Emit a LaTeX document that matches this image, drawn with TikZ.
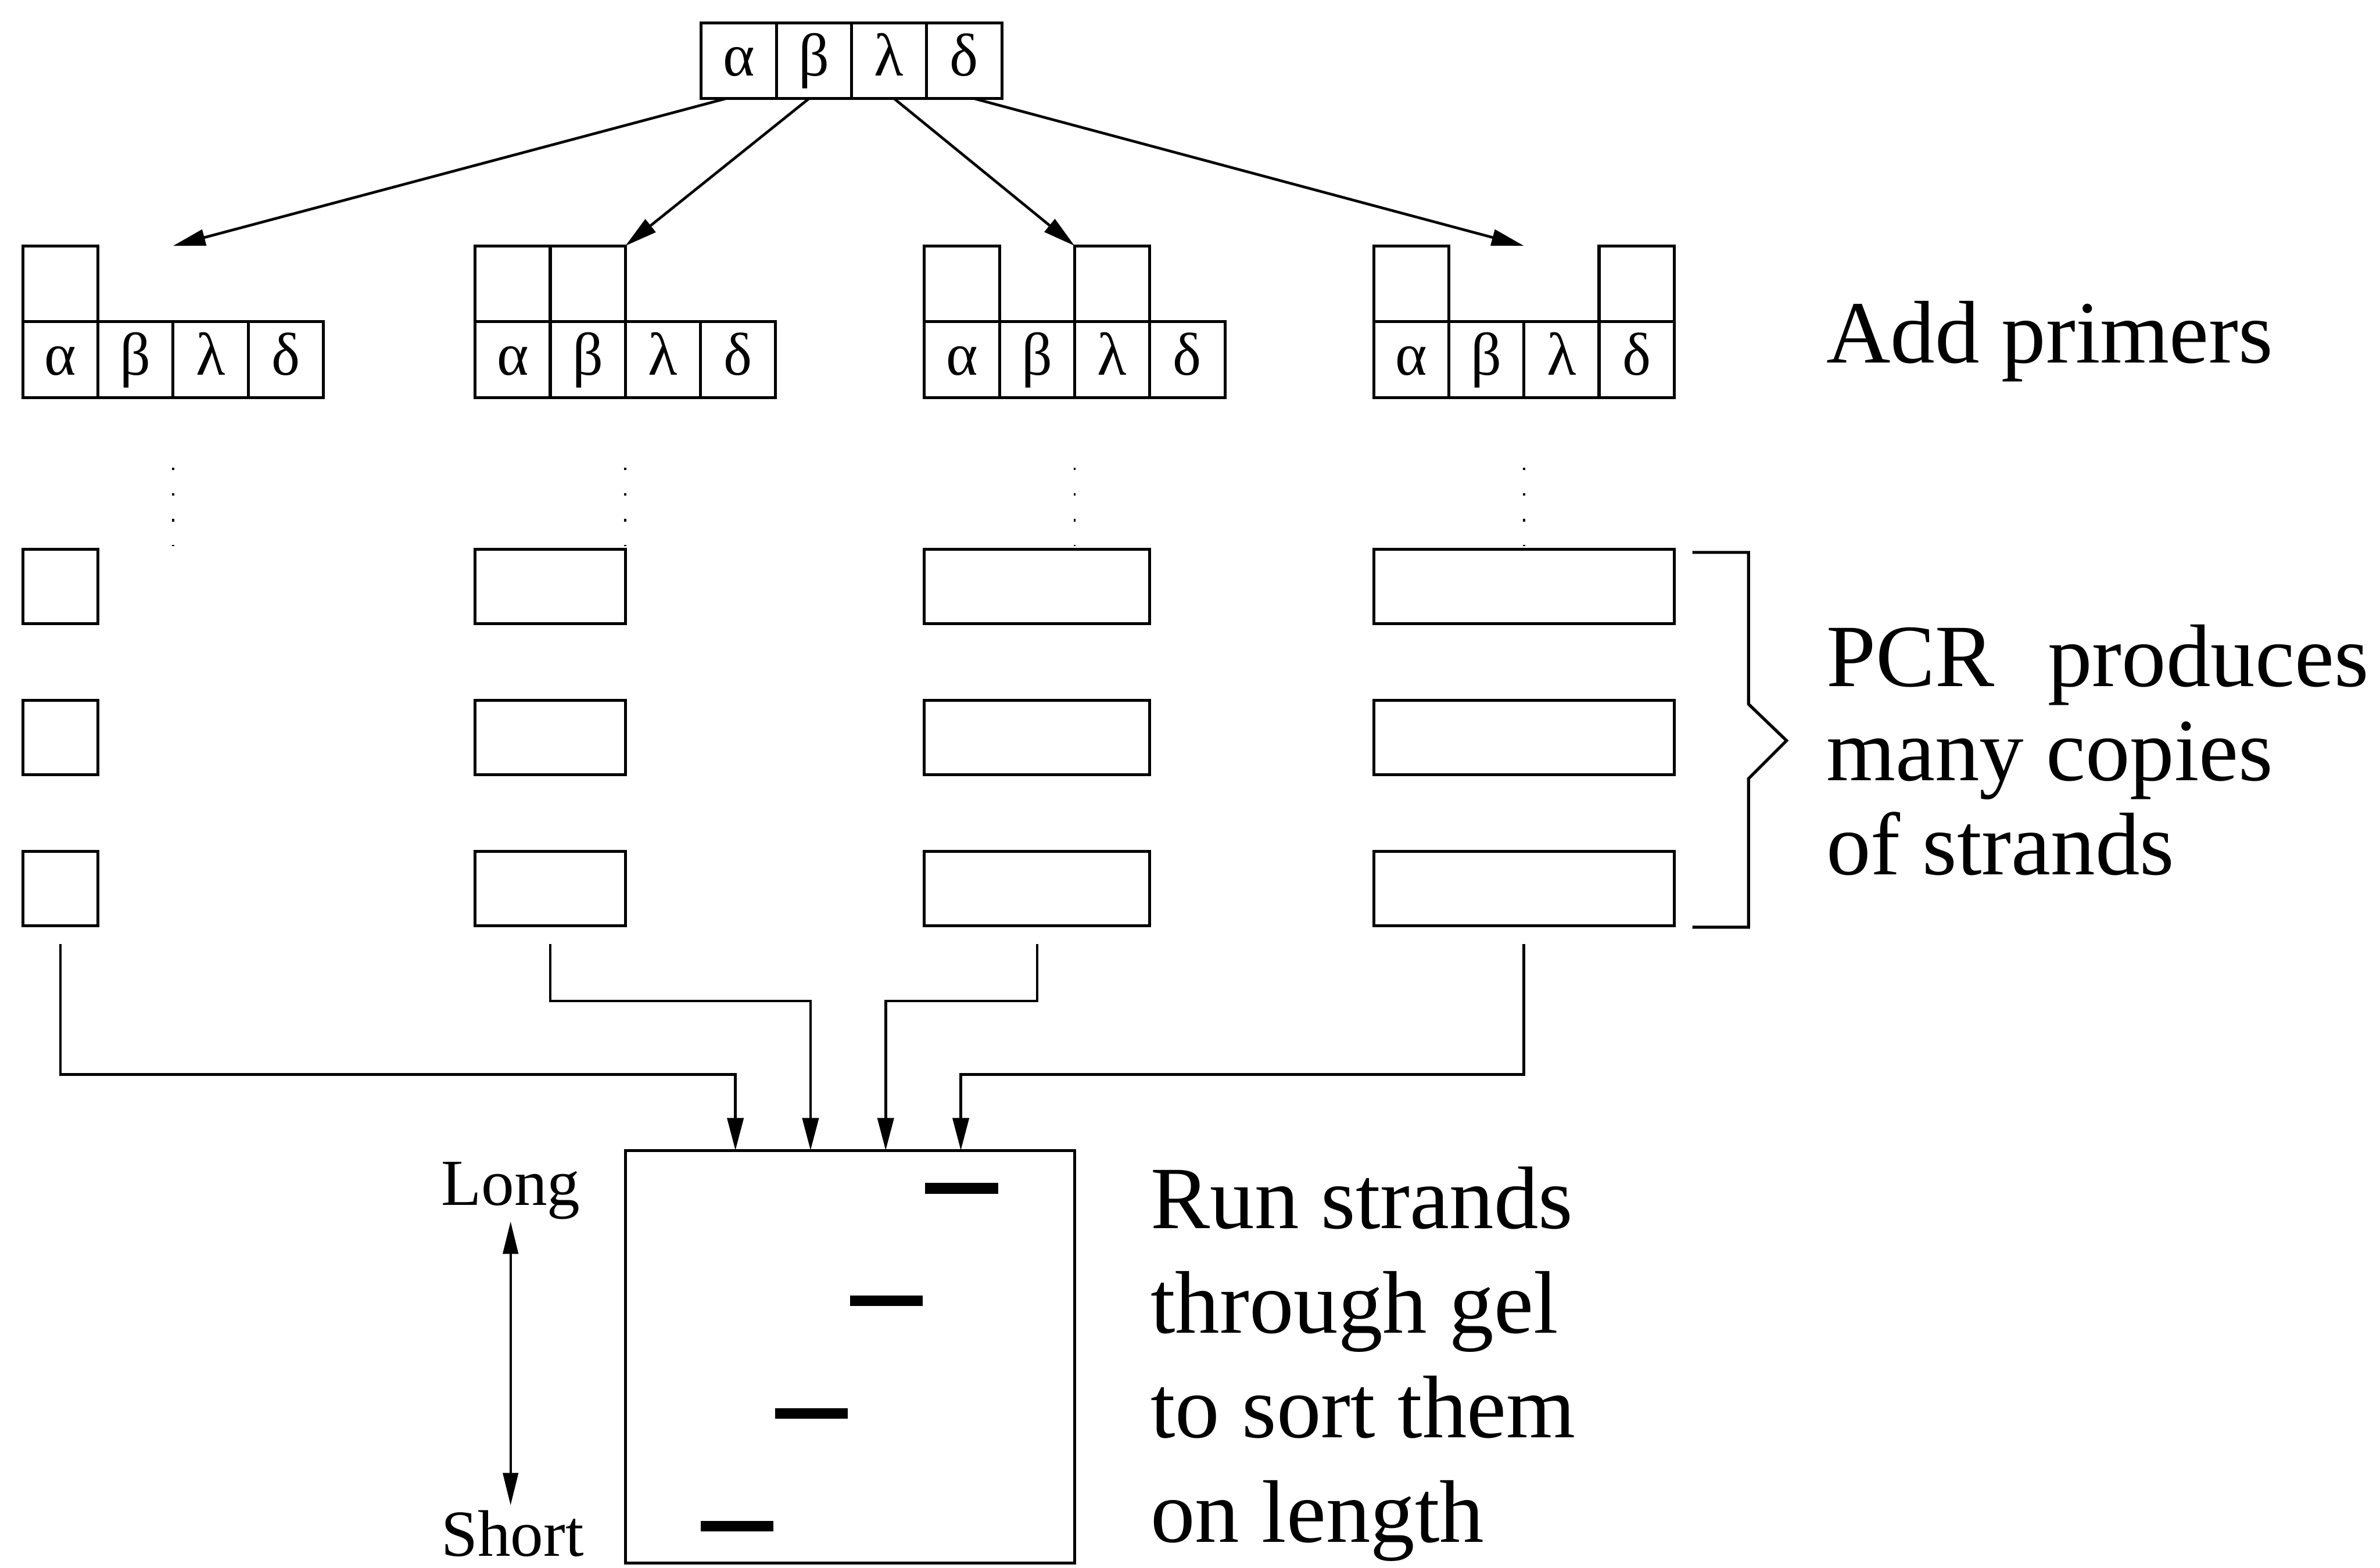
\documentclass[tikz,border=0pt]{standalone}
\usepackage{fontspec}
\setmainfont{Liberation Serif}
\usepackage{tikz}
\usetikzlibrary{arrows.meta,positioning}
\tikzset{
  cell/.style={draw,line width=1.7pt,minimum width=14.85mm,minimum height=15mm,inner sep=0pt,outer sep=0pt,text height=24pt,text depth=7pt,font=\fontsize{34}{40}\selectfont},
  strand/.style={draw,line width=1.7pt,minimum height=14.7mm,inner sep=0pt,outer sep=0pt,anchor=north west},
  gelbox/.style={draw,line width=1.6pt,minimum width=88.8mm,minimum height=81.6mm,inner sep=0pt,outer sep=0pt},
  band/.style={fill=black,minimum width=14.4mm,minimum height=2.1mm,inner sep=0pt},
  arrow/.style={-{Triangle[length=6.4mm,width=3.2mm]},line width=1.5pt},
  twoway/.style={{Triangle[length=6.4mm,width=3mm]}-{Triangle[length=6.4mm,width=3mm]},line width=1.4pt},
  brace/.style={line width=1.7pt},
  trace/.style={line width=1.3pt,dash pattern=on 0.5mm off 4.6mm},
  note/.style={anchor=base west,align=left,inner sep=0pt,font=\fontsize{50}{53}\selectfont},
  scalenote/.style={anchor=base west,inner sep=0pt,font=\fontsize{37}{40}\selectfont}
}
\begin{document}
\begin{tikzpicture}[x=0.3mm,y=-0.3mm]
  \useasboundingbox (0,0) rectangle (1568,1033);
  \node[cell] (t1) at (486.75,40) {α};
  \node[cell,right=0pt of t1] (t2) {β};
  \node[cell,right=0pt of t2] (t3) {λ};
  \node[cell,right=0pt of t3] (t4) {δ};
  \foreach \g/\x in {a/39.75,b/337.75,c/633.75,d/929.75}{
    \node[cell] (\g1) at (\x,237) {α};
    \node[cell,right=0pt of \g1] (\g2) {β};
    \node[cell,right=0pt of \g2] (\g3) {λ};
    \node[cell,right=0pt of \g3] (\g4) {δ};
    \node[cell,above=0pt of \g1] (p\g1) {};
    \coordinate (h\g) at (\g3.north west |- p\g1.north);
    \draw[trace] ([yshift=-13.8mm]\g3.south west) -- ++(0,-15.6mm);
  }
  \node[cell,right=0pt of pb1] (pb2) {};
  \node[cell,above=0pt of c3] (pc3) {};
  \node[cell,above=0pt of d4] (pd4) {};
  \draw[arrow] ([xshift=-2.6mm]t1.south) -- (ha);
  \draw[arrow] ([xshift=-1mm]t2.south) -- (hb);
  \draw[arrow] ([xshift=1mm]t3.south) -- (hc);
  \draw[arrow] ([xshift=2mm]t4.south) -- (hd);
  \foreach \g/\x/\w in {a/15/14.85mm,b/313/29.7mm,c/609/44.55mm,d/905/59.4mm}
    \foreach \r/\y in {1/362,2/461.5,3/561}
      \node[strand,minimum width=\w] (s\g\r) at (\x,\y) {};
  \draw[brace] (1115,364) -- (1152,364) -- (1152,464) -- (1177,488) -- (1152,513) -- (1152,611) -- (1115,611);
  \node[gelbox] (gel) at (560,894) {};
  \coordinate (ja) at (484.5,708);
  \coordinate (jb) at (534,659.6);
  \coordinate (jc) at (583.5,659.6);
  \coordinate (jd) at (633,708);
  \draw[arrow] ([yshift=-3.6mm]sa3.south) |- (ja) -- (ja |- gel.north);
  \draw[arrow] ([yshift=-3.6mm]sb3.south) |- (jb) -- (jb |- gel.north);
  \draw[arrow] ([yshift=-3.6mm]sc3.south) |- (jc) -- (jc |- gel.north);
  \draw[arrow] ([yshift=-3.6mm]sd3.south) |- (jd) -- (jd |- gel.north);
  \node[band] (bd) at (633.5,783) {};
  \node[band] (bc) at (584,857) {};
  \node[band] (bb) at (534.5,931.5) {};
  \node[band] (ba) at (485.5,1005.6) {};
  \node[scalenote] (long) at (290.4,794.3) {Long};
  \node[scalenote] (short) at (290.4,1025.5) {Short};
  \draw[twoway] ([yshift=-0.3mm]long.south) -- ([yshift=1mm]long.south |- short.north);
  \node[note] (primers) at (1203,239) {Add primers};
  \node[note] (pcr) at (1203,576.3) {PCR\hspace{0.6em}produces\\many copies\\of strands};
  \node[note,font=\fontsize{50}{58.8}\selectfont] (run) at (757.9,1016) {Run strands\\through gel\\to sort them\\on length};
\end{tikzpicture}
\end{document}
